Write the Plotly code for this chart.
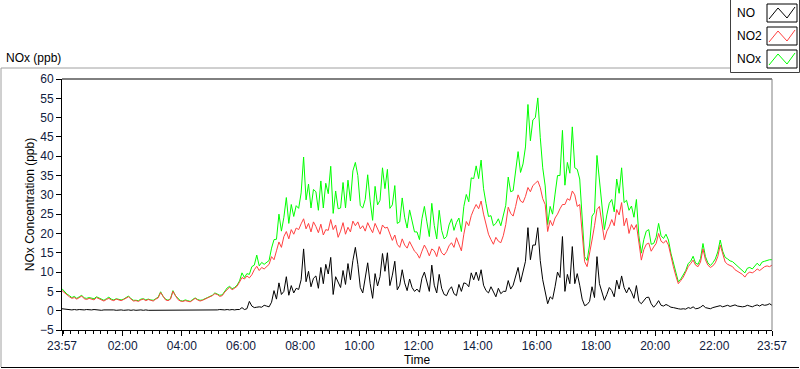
import pandas as pd
import plotly.graph_objects as go

# ---- data (5-minute samples from 23:57 to 23:57 next day) ----
no2_ppb = [
    5.2, 4.6, 4.0, 3.6, 3.2, 3.4, 3.0, 3.3, 3.8, 3.1, 2.9, 3.2,
    3.0, 2.8, 3.4, 3.1, 2.7, 2.5, 2.9, 3.2, 2.8, 2.6, 3.0, 2.7,
    2.6, 2.9, 3.3, 3.6, 3.0, 2.5, 2.6, 2.4, 2.8, 3.0, 2.6, 2.9,
    2.7, 2.5, 3.0, 3.3, 4.7, 3.6, 2.8, 2.6, 3.0, 5.0, 3.8, 2.9,
    2.5, 2.4, 2.6, 2.5, 2.3, 2.7, 3.2, 2.8, 2.5, 2.7, 3.0, 3.3,
    3.5, 3.9, 4.4, 4.2, 3.7, 3.9, 4.8, 5.6, 6.1, 5.4, 5.8, 6.3,
    7.4, 8.6, 8.2, 9.0, 8.5, 9.3, 10.6, 11.5, 10.4, 11.2, 10.8, 11.4,
    12.0, 14.0, 13.2, 15.5, 17.8, 16.4, 19.2, 20.5, 18.6, 21.0, 19.8, 21.4,
    21.0, 22.5, 23.8, 21.2, 22.6, 20.4, 23.0, 21.8, 20.2, 22.4, 19.6, 21.0,
    20.8, 23.6, 21.0, 22.2, 19.0, 20.6, 22.8, 19.8, 21.6, 20.4, 23.2, 22.0,
    23.0, 21.2, 22.0, 20.6, 22.8, 21.4, 20.2, 22.6, 21.0, 19.8, 22.2, 21.4,
    21.6, 20.0, 18.2, 19.6, 17.2, 16.4, 18.6, 17.0, 16.2, 17.9, 16.8, 15.4,
    14.8, 13.6, 15.4, 17.0, 15.8, 14.2, 16.0, 15.5, 14.0, 16.6, 15.0, 14.4,
    15.3, 16.8, 17.6, 16.4, 18.9, 17.2, 15.5, 19.8, 23.1, 22.0, 24.6, 26.2,
    27.5, 26.4, 28.4, 25.0, 22.6, 19.8, 18.4, 17.2, 19.0, 18.0, 17.6, 19.4,
    22.3, 26.8, 25.2, 24.5, 27.0, 30.0, 28.4, 28.0, 29.6, 31.9, 30.8, 32.4,
    33.0, 33.6, 31.9, 29.0, 27.5, 20.5, 23.4, 22.0, 24.0, 25.0, 26.4, 27.5,
    27.5, 29.0, 28.6, 31.0, 30.0, 27.0, 27.5, 20.0, 12.7, 11.4, 14.6, 18.3,
    22.0, 26.2, 27.0, 22.4, 18.3, 20.6, 21.8, 23.6, 22.0, 26.2, 24.8, 28.0,
    22.0, 24.0, 20.0, 22.3, 21.0, 22.3, 17.0, 13.1, 15.8, 17.2, 17.5, 15.4,
    16.5, 17.4, 20.0, 18.0, 17.5, 18.2, 17.0, 14.0, 11.4, 9.0, 7.0, 7.8,
    8.7, 10.0, 11.4, 12.2, 13.1, 11.8, 11.4, 12.6, 16.0, 13.2, 11.8, 11.2,
    11.6, 12.4, 14.0, 17.0, 14.4, 12.6, 12.0, 11.8, 11.4, 10.6, 10.2, 9.7,
    9.4, 8.7, 9.6, 10.0, 9.8, 10.2, 10.8, 10.4, 11.0, 11.4, 11.6, 11.4,
    11.8,
]

no_ppb = [
    0.5, 0.4, 0.3, 0.3, 0.2, 0.3, 0.2, 0.3, 0.2, 0.2, 0.3, 0.2,
    0.2, 0.3, 0.2, 0.2, 0.1, 0.2, 0.2, 0.3, 0.2, 0.2, 0.1, 0.2,
    0.2, 0.1, 0.2, 0.2, 0.1, 0.2, 0.1, 0.2, 0.2, 0.1, 0.2, 0.1,
    0.1, 0.2, 0.1, 0.2, 0.2, 0.1, 0.2, 0.1, 0.1, 0.2, 0.1, 0.2,
    0.1, 0.1, 0.2, 0.1, 0.1, 0.2, 0.1, 0.1, 0.2, 0.1, 0.2, 0.1,
    0.2, 0.1, 0.2, 0.2, 0.3, 0.2, 0.2, 0.3, 0.2, 0.3, 0.2, 0.3,
    0.3, 0.8, 0.3, 0.5, 2.4, 1.2, 0.8, 0.9, 1.0, 0.9, 1.4, 1.2,
    1.0, 2.2, 5.2, 3.0, 7.2, 4.2, 5.0, 8.8, 4.0, 6.5, 4.6, 5.8,
    5.5, 8.0, 16.0, 7.5, 10.2, 6.2, 8.4, 9.0, 5.8, 11.2, 7.0, 12.0,
    9.5, 13.8, 4.2, 8.8, 7.4, 6.0, 10.4, 6.8, 12.2, 8.0, 13.0, 16.4,
    12.0, 6.0, 4.6, 8.2, 12.4, 7.0, 3.2, 9.6, 6.4, 8.8, 14.8, 10.2,
    15.0, 6.5, 9.2, 12.8, 5.4, 6.6, 10.6, 7.2, 5.2, 8.2, 6.0, 5.0,
    5.6, 4.8, 8.4, 10.0, 7.2, 5.0, 11.8, 6.6, 4.6, 9.4, 5.8, 4.2,
    3.9, 5.4, 6.2, 4.4, 3.9, 6.8, 5.0, 7.2, 7.0, 6.2, 9.8, 8.0,
    10.0, 7.8, 10.6, 6.6, 5.2, 4.6, 6.2, 4.8, 3.6, 5.8, 4.4, 5.0,
    5.0, 7.8, 5.6, 6.6, 8.6, 11.2, 7.4, 10.0, 12.8, 21.5, 13.2, 17.0,
    17.0, 21.5, 13.0, 8.0, 4.8, 1.8, 3.6, 3.0, 6.2, 10.0, 8.6, 19.2,
    5.0, 9.4, 7.0, 16.6, 7.0, 9.6, 6.6, 3.0, 1.3, 1.6, 2.4, 6.2,
    3.4, 14.0, 7.0, 5.0, 2.7, 4.2, 6.0, 5.2, 3.6, 7.9, 5.6, 9.0,
    6.0, 4.6, 6.0, 4.8, 3.2, 6.5, 2.4, 1.8, 2.6, 3.4, 3.5, 1.8,
    0.9, 1.6, 2.6, 1.4, 1.2, 1.6, 1.3, 0.9, 0.8, 0.6, 0.5, 0.4,
    0.5, 0.4, 0.8, 0.6, 1.0, 0.5, 0.6, 0.9, 1.4, 0.8, 0.6, 0.5,
    0.8, 1.0, 1.2, 1.3, 1.0, 1.2, 1.4, 1.1, 1.3, 1.5, 1.2, 1.1,
    1.0, 1.1, 1.4, 1.2, 1.0, 1.3, 1.5, 1.2, 1.6, 1.4, 1.5, 1.8,
    1.4,
]

nox_ppb = [
    5.7, 5.0, 4.3, 3.9, 3.4, 3.7, 3.2, 3.6, 4.0, 3.3, 3.2, 3.4,
    3.2, 3.1, 3.6, 3.3, 2.8, 2.7, 3.1, 3.5, 3.0, 2.8, 3.1, 2.9,
    2.8, 3.0, 3.5, 3.8, 3.1, 2.7, 2.7, 2.6, 3.0, 3.1, 2.8, 3.0,
    2.8, 2.7, 3.1, 3.5, 4.9, 3.7, 3.0, 2.7, 3.1, 5.2, 3.9, 3.1,
    2.6, 2.5, 2.8, 2.6, 2.4, 2.9, 3.3, 2.9, 2.7, 2.8, 3.2, 3.4,
    3.7, 4.0, 4.6, 4.4, 4.0, 4.1, 5.0, 5.9, 6.3, 5.7, 6.0, 6.6,
    7.7, 9.8, 8.6, 9.6, 9.4, 11.4, 11.8, 14.4, 11.6, 12.5, 12.0, 12.6,
    13.0, 16.2, 18.4, 18.5, 25.0, 20.6, 24.2, 29.3, 22.6, 27.5, 24.4, 27.2,
    26.5, 30.5, 39.8, 28.7, 32.8, 26.6, 31.4, 30.8, 26.0, 33.6, 26.6, 33.0,
    30.3, 37.4, 25.2, 31.0, 26.4, 26.6, 33.2, 26.6, 33.8, 28.4, 36.2, 38.4,
    35.0, 27.2, 26.6, 28.8, 35.2, 28.4, 23.4, 32.2, 27.4, 28.6, 37.0, 31.6,
    36.6, 26.5, 27.4, 32.4, 22.6, 23.0, 29.2, 24.2, 21.4, 26.1, 22.8, 20.4,
    20.4, 18.4, 23.8, 27.0, 23.0, 19.2, 27.8, 22.1, 18.6, 26.0, 20.8, 18.6,
    19.2, 22.2, 23.8, 20.8, 22.8, 24.0, 20.5, 27.0, 30.1, 28.2, 34.4, 34.2,
    37.5, 34.2, 39.0, 31.6, 27.8, 24.4, 24.6, 22.0, 22.6, 23.8, 22.0, 24.4,
    27.3, 34.6, 30.8, 31.1, 35.6, 41.2, 35.8, 38.0, 42.4, 53.4, 44.0, 49.4,
    50.0, 55.1, 44.9, 37.0, 32.3, 22.3, 27.0, 25.0, 30.2, 35.0, 35.0, 46.7,
    32.5, 38.4, 35.6, 47.6, 37.0, 36.6, 34.1, 23.0, 14.0, 13.0, 17.0, 24.5,
    25.4, 40.2, 34.0, 27.4, 21.0, 24.8, 27.8, 28.8, 25.6, 34.1, 30.4, 37.0,
    28.0, 28.6, 26.0, 27.1, 24.2, 28.8, 19.4, 14.9, 18.4, 20.6, 21.0, 17.2,
    17.4, 19.0, 22.6, 19.4, 18.7, 19.8, 18.3, 14.9, 12.2, 9.6, 7.5, 8.2,
    9.2, 10.4, 12.2, 12.8, 14.1, 12.3, 12.0, 13.5, 17.4, 14.0, 12.4, 11.7,
    12.4, 13.4, 15.2, 18.3, 15.4, 13.8, 13.4, 12.9, 12.7, 12.1, 11.4, 10.8,
    10.4, 9.8, 11.0, 11.2, 10.8, 11.5, 12.3, 11.6, 12.6, 12.8, 13.1, 13.2,
    13.2,
]

x_tick_labels = ["23:57", "02:00", "04:00", "06:00", "08:00", "10:00", "12:00",
                 "14:00", "16:00", "18:00", "20:00", "22:00", "23:57"]
y_tick_values = [-5, 0, 5, 10, 15, 20, 25, 30, 35, 40, 45, 50, 55, 60]

series_names = ["NO", "NO2", "NOx"]
series_colors = ["#000000", "#ff4040", "#00ff00"]

# ---- time axis ----
t_start = pd.Timestamp("2020-01-01 23:57")
t_end = pd.Timestamp("2020-01-02 23:57")
times = pd.date_range(t_start, periods=len(no2_ppb), freq="5min")
tick_times = [t_start] + [pd.Timestamp("2020-01-02") + pd.Timedelta(hours=h)
                          for h in range(2, 23, 2)] + [t_end]

FONT = "Liberation Sans"

fig = go.Figure()
for name, vals, col in [("NOx", nox_ppb, series_colors[2]),
                        ("NO2", no2_ppb, series_colors[1]),
                        ("NO", no_ppb, series_colors[0])]:
    fig.add_trace(go.Scatter(x=times, y=vals, mode="lines", name=name,
                             line=dict(color=col, width=1), showlegend=False,
                             hoverinfo="skip"))

W, H = 800, 369
L, R, T, B = 62, 772, 79, 330


def px(x):
    return (x - L) / (R - L)


def py(y):
    return (B - y) / (B - T)


shapes = []
# outer panel frame
shapes.append(dict(type="line", xref="paper", yref="paper", x0=px(1), x1=px(799), y0=py(68), y1=py(68), line=dict(color="#a0a0a0", width=1)))
shapes.append(dict(type="line", xref="paper", yref="paper", x0=px(1), x1=px(1), y0=py(68), y1=py(367), line=dict(color="#a0a0a0", width=1)))
shapes.append(dict(type="line", xref="paper", yref="paper", x0=px(1), x1=px(799), y0=py(367.5), y1=py(367.5), line=dict(color="#000000", width=1)))
# plot frame top / right
shapes.append(dict(type="line", xref="paper", yref="paper", x0=0, x1=1, y0=1, y1=1, line=dict(color="#000000", width=1)))
shapes.append(dict(type="line", xref="paper", yref="paper", x0=1, x1=1, y0=0, y1=1, line=dict(color="#808080", width=1)))

# legend box
shapes.append(dict(type="rect", xref="paper", yref="paper", x0=px(730.5), x1=px(799.5), y0=py(72.5), y1=py(-1),
                   fillcolor="white", line=dict(color="#404040", width=1)))
annotations = []
for i, (name, col) in enumerate(zip(series_names, series_colors)):
    top = 4 + i * 23
    shapes.append(dict(type="rect", xref="paper", yref="paper", x0=px(767), x1=px(797), y0=py(top + 18), y1=py(top),
                       fillcolor="white", line=dict(color="#000000", width=1)))
    path = "M {} {} L {} {} L {} {} L {} {}".format(
        px(769), py(top + 15), px(778), py(top + 4), px(787), py(top + 14), px(795), py(top + 3))
    shapes.append(dict(type="path", xref="paper", yref="paper", path=path, line=dict(color=col, width=1)))
    annotations.append(dict(text=name, xref="paper", yref="paper", x=px(735), y=py(top + 9),
                            xanchor="left", yanchor="middle", showarrow=False,
                            font=dict(family=FONT, size=12, color="#000000")))

annotations.append(dict(text="NOx (ppb)", xref="paper", yref="paper", x=px(4), y=py(58),
                        xanchor="left", yanchor="middle", showarrow=False,
                        font=dict(family=FONT, size=12, color="#000000")))

fig.update_layout(
    width=W, height=H,
    margin=dict(l=L, r=W - R, t=T, b=H - B),
    paper_bgcolor="white", plot_bgcolor="white",
    font=dict(family=FONT, size=12, color="#000000"),
    shapes=shapes, annotations=annotations, showlegend=False,
    xaxis=dict(
        range=[t_start, t_end], tickmode="array", tickvals=tick_times, ticktext=x_tick_labels,
        ticks="outside", ticklen=5, tickcolor="#000000", showgrid=False, zeroline=False,
        showline=True, linecolor="#000000", linewidth=1, automargin=False,
        tickfont=dict(family=FONT, size=12, color="#102040"),
        title=dict(text="Time", standoff=0, font=dict(family=FONT, size=12)),
        minor=dict(ticks="outside", ticklen=3, tickcolor="#000000", dtick=15 * 60 * 1000,
                   tick0="2020-01-02 00:00", showgrid=False),
    ),
    yaxis=dict(
        range=[-5, 60], tickmode="array", tickvals=y_tick_values,
        ticks="outside", ticklen=5, tickcolor="#000000", showgrid=False, zeroline=False,
        showline=True, linecolor="#000000", linewidth=1, automargin=False,
        tickfont=dict(family=FONT, size=12, color="#102040"),
        title=dict(text="NOx Concentration (ppb)", standoff=2, font=dict(family=FONT, size=12)),
    ),
)

fig.write_html("out.html", config={"displayModeBar": False, "staticPlot": True},
               post_script="document.body.style.margin='0px';document.body.style.overflow='hidden';")
